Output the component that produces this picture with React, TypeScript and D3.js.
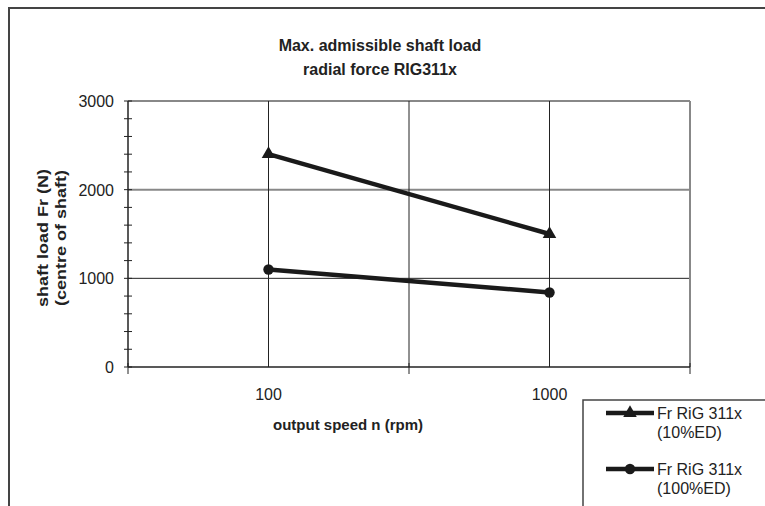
import * as d3 from 'd3'

const speeds = [100, 1000]
const series10 = [2400, 1500]
const series100 = [1100, 840]
const titleLines = ['Max. admissible shaft load', 'radial force RIG311x']
const yTitleLines = ['shaft load Fr (N)', '(centre of shaft)']
const xTitle = 'output speed n (rpm)'
const legendLabels = [['Fr RiG 311x', '(10%ED)'], ['Fr RiG 311x', '(100%ED)']]
const yMajor = [0, 1000, 2000, 3000]
const xLabels = [100, 1000]

const W = 765
const H = 506
const font = 'Arial, "Liberation Sans", sans-serif'

export default function App() {
  const x = d3.scaleLog().domain([Math.pow(10, 1.5), Math.pow(10, 3.5)]).range([128, 690])
  const y = d3.scaleLinear().domain([0, 3000]).range([367, 101])

  const xGrid = [1.5, 2, 2.5, 3, 3.5].map(e => Math.pow(10, e))
  const xTicks = [1.5, 2.5, 3.5].map(e => Math.pow(10, e))
  const yMinor = d3.range(0, 3001, 200)

  const line = d3.line<[number, number]>()
    .x(d => x(d[0]))
    .y(d => y(d[1]))

  const tri = d3.symbol().type(d3.symbolTriangle).size(80)()
  const dot = d3.symbol().type(d3.symbolCircle).size(85)()

  const pts10 = speeds.map((s, i) => [s, series10[i]] as [number, number])
  const pts100 = speeds.map((s, i) => [s, series100[i]] as [number, number])

  return (
    <svg width={W} height={H} style={{ position: 'absolute', left: 0, top: 0 }}>
      <rect x={0} y={0} width={W} height={H} fill="#fff" />
      {/* outer chart border */}
      <path d={`M9,${H} V8 H${W}`} fill="none" stroke="#444" strokeWidth={2} />

      {titleLines.map((t, i) => (
        <text key={t} x={380} y={51 + i * 24} textAnchor="middle" fontFamily={font}
          fontWeight="bold" fontSize={16} fill="#222">{t}</text>
      ))}

      {/* grid */}
      {yMajor.slice(1).map(v => (
        <line key={v} x1={128} x2={690} y1={y(v)} y2={y(v)}
          stroke={v === 1000 ? '#222' : '#888'} strokeWidth={v === 1000 ? 1 : 2} />
      ))}
      {xGrid.slice(1).map((v, i) => (
        <line key={v} x1={x(v)} x2={x(v)} y1={101} y2={367}
          stroke={i === 3 ? '#888' : '#222'} strokeWidth={i === 3 ? 2 : 1} />
      ))}

      {/* y axis */}
      <line x1={128} x2={128} y1={101} y2={367} stroke="#222" strokeWidth={1.5} />
      {yMinor.map(v => (
        <line key={v} x1={124} x2={132} y1={y(v)} y2={y(v)} stroke="#222" strokeWidth={1} />
      ))}
      {yMajor.map(v => (
        <text key={v} x={114} y={y(v) + 6} textAnchor="end" fontFamily={font}
          fontSize={16} fill="#222">{v}</text>
      ))}

      {/* x axis */}
      <line x1={128} x2={690} y1={367} y2={367} stroke="#222" strokeWidth={1.5} />
      {xTicks.map(v => (
        <line key={v} x1={x(v)} x2={x(v)} y1={363} y2={374} stroke="#222" strokeWidth={1} />
      ))}
      {xLabels.map(v => (
        <text key={v} x={x(v)} y={400} textAnchor="middle" fontFamily={font}
          fontSize={16} fill="#222">{v}</text>
      ))}

      <text x={348} y={430} textAnchor="middle" fontFamily={font} fontWeight="bold"
        fontSize={15} fill="#222">{xTitle}</text>

      {yTitleLines.map((t, i) => (
        <text key={t} transform={`translate(${48 + i * 18},${238}) rotate(-90) scale(1.2,1)`}
          textAnchor="middle" fontFamily={font} fontWeight="bold" fontSize={15}
          fill="#222">{t}</text>
      ))}

      {/* series */}
      <path d={line(pts10) ?? ''} fill="none" stroke="#1a1a1a" strokeWidth={4.5} />
      <path d={line(pts100) ?? ''} fill="none" stroke="#1a1a1a" strokeWidth={4.5} />
      {pts10.map(p => (
        <path key={p[0]} d={tri ?? ''} transform={`translate(${x(p[0])},${y(p[1])})`} fill="#1a1a1a" />
      ))}
      {pts100.map(p => (
        <path key={p[0]} d={dot ?? ''} transform={`translate(${x(p[0])},${y(p[1])})`} fill="#1a1a1a" />
      ))}

      {/* legend */}
      <path d={`M583,${H} V400 H${W}`} fill="none" stroke="#444" strokeWidth={1.5} />
      {legendLabels.map((lbl, i) => {
        const cy = 413 + i * 56
        return (
          <g key={i}>
            <line x1={606} x2={654} y1={cy} y2={cy} stroke="#1a1a1a" strokeWidth={4.5} />
            <path d={(i === 0 ? tri : dot) ?? ''} transform={`translate(630,${cy})`} fill="#1a1a1a" />
            {lbl.map((t, j) => (
              <text key={j} x={657} y={cy + 6 + j * 19} fontFamily={font} fontSize={16}
                fill="#222">{t}</text>
            ))}
          </g>
        )
      })}
    </svg>
  )
}
